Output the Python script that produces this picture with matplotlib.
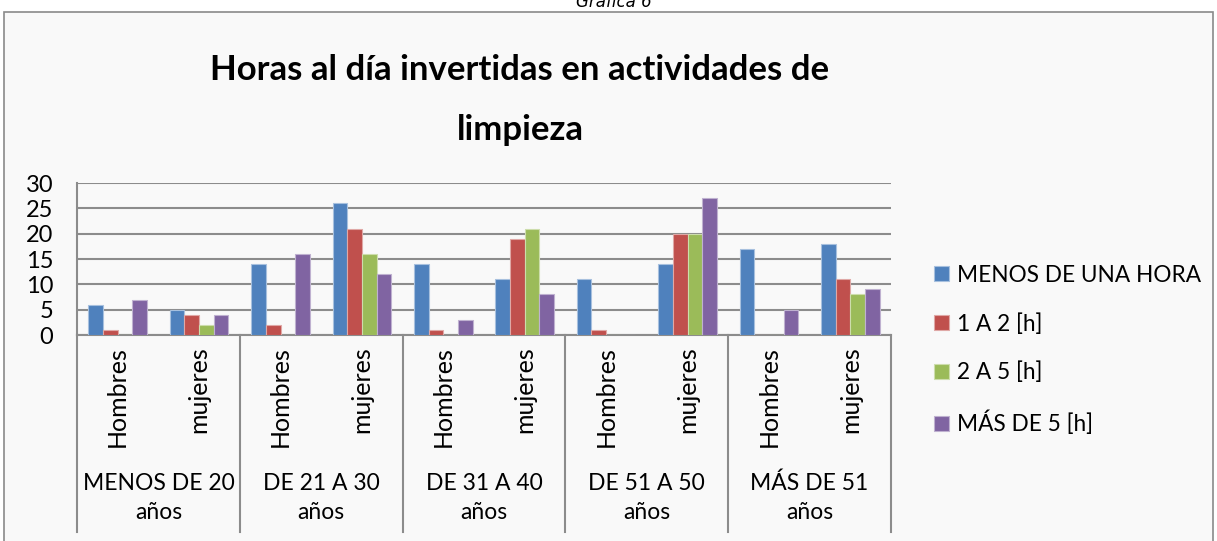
import matplotlib
matplotlib.use("Agg")
import matplotlib.pyplot as plt
from matplotlib.patches import Rectangle
import numpy as np

# data
age_groups = ["MENOS DE 20\naños", "DE 21 A 30\naños", "DE 31 A 40\naños",
              "DE 51 A 50\naños", "MÁS DE 51\naños"]
sexes = ["Hombres", "mujeres"]
series_names = ["MENOS DE UNA HORA", "1 A 2 [h]", "2 A 5 [h]", "MÁS DE 5 [h]"]
menos_una_hora = [6, 5, 14, 26, 14, 11, 11, 14, 17, 18]
uno_a_dos = [1, 4, 2, 21, 1, 19, 1, 20, 0, 11]
dos_a_cinco = [0, 2, 0, 16, 0, 21, 0, 20, 0, 8]
mas_de_cinco = [7, 4, 16, 12, 3, 8, 0, 27, 5, 9]
y_ticks = [0, 5, 10, 15, 20, 25, 30]

colors = ["#4F81BD", "#C0504D", "#9BBB59", "#8064A2"]
edges = ["#A7C0DE", "#DFA8A6", "#CDDDAC", "#BFB1D0"]
GRID = "#8C8C8C"
FONT = "Lato"

W, H = 1217, 541
fig = plt.figure(figsize=(W / 100, H / 100), dpi=100, facecolor="white")

# outer chart frame
fig.patches.append(Rectangle((4 / W, -0.01), (1213 - 4) / W, 1 - 12 / H + 0.01,
                             transform=fig.transFigure, facecolor="#F9F9F9",
                             edgecolor="#8A8A8A", linewidth=1.2, zorder=-5))

fig.text(614 / W, 1 - 7 / H, "Gráfica 6", ha="center", va="baseline",
         fontsize=12, style="italic", family="Liberation Sans Narrow")

x0, x1, ytop, ybot = 77, 891, 183, 335
ax = fig.add_axes([x0 / W, 1 - ybot / H, (x1 - x0) / W, (ybot - ytop) / H])
ax.set_facecolor("none")
ax.set_zorder(2)

series = [menos_una_hora, uno_a_dos, dos_a_cinco, mas_de_cinco]
n_cat = len(menos_una_hora)
x = np.arange(n_cat)
bw = 0.18
for i, (vals, name) in enumerate(zip(series, series_names)):
    ax.bar(x + (i - 1.5) * bw, vals, width=bw, color=colors[i],
           edgecolor=edges[i], linewidth=0.8, label=name, zorder=3)

ax.set_xlim(-0.5, n_cat - 0.5)
ax.set_ylim(0, 30)
ax.set_yticks(y_ticks)
ax.set_yticklabels([str(t) for t in y_ticks], fontsize=17, family=FONT)
ax.tick_params(axis="y", length=0, pad=17)
ax.yaxis.grid(True, color=GRID, linewidth=1.5, zorder=1)
ax.set_axisbelow(True)
for s in ["top", "right"]:
    ax.spines[s].set_visible(False)
for s in ["left", "bottom"]:
    ax.spines[s].set_color(GRID)
    ax.spines[s].set_linewidth(1.5)

ax.set_xticks(x)
ax.set_xticklabels(sexes * len(age_groups), rotation=90, fontsize=18,
                   family=FONT, va="top")
ax.tick_params(axis="x", length=0, pad=8)

# group separators and labels below the axis
axis_h = ybot - ytop
sep_bottom = -(532 - ybot) / axis_h
trans = ax.get_xaxis_transform()
for b in np.arange(-0.5, n_cat, 2):
    ax.plot([b, b], [0, sep_bottom], transform=trans, color=GRID,
            linewidth=1.5, clip_on=False)
for g, label in enumerate(age_groups):
    ax.text(2 * g + 0.5, -(498 - ybot) / axis_h, label, transform=trans,
            ha="center", va="center", fontsize=16.5, family=FONT,
            linespacing=1.45)

fig.text(520 / W, 1 - 100 / H, "Horas al día invertidas en actividades de\nlimpieza",
         ha="center", va="center", fontsize=25, fontweight="bold",
         family=FONT, linespacing=2.05)

fig.legend(loc="center left", bbox_to_anchor=(914 / W, 1 - 350 / H),
           frameon=False, prop={"family": FONT, "size": 16.3},
           handlelength=0.65, handleheight=0.65, handletextpad=0.35,
           labelspacing=1.2)

fig.savefig("out.png", dpi=100)
